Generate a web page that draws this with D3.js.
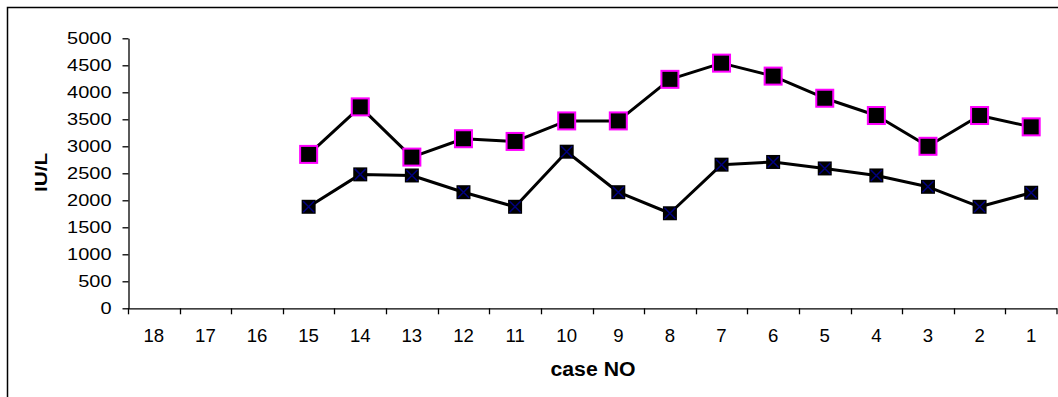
<!DOCTYPE html>
<html>
<head>
<meta charset="utf-8">
<script src="https://cdn.jsdelivr.net/npm/d3@7/dist/d3.min.js"></script>
<style>
  html, body { margin: 0; padding: 0; background: #fff; }
  svg { display: block; }
  text { font-family: "Liberation Sans", Arial, sans-serif; fill: #000; }
</style>
</head>
<body>
<svg id="chart" width="1058" height="397"></svg>
<script>
// Case numbers, shown in descending order along the x axis
const categories = ["18","17","16","15","14","13","12","11","10","9","8","7","6","5","4","3","2","1"];
// Upper series (magenta-edged squares), IU/L
const seriesUpper = [null, null, null, 2850, 3730, 2800, 3140, 3090, 3470, 3470, 4240, 4540, 4300, 3890, 3570, 3000, 3570, 3360];
// Lower series (squares with navy cross), IU/L
const seriesLower = [null, null, null, 1880, 2480, 2460, 2150, 1880, 2900, 2150, 1760, 2660, 2710, 2590, 2460, 2250, 1880, 2140];
const yTicks = [0, 500, 1000, 1500, 2000, 2500, 3000, 3500, 4000, 4500, 5000];

const svg = d3.select("#chart");

// Outer chart frame (only its top and left edges fall inside the view)
svg.append("rect")
  .attr("x", 7.5).attr("y", 7.5)
  .attr("width", 1200).attr("height", 600)
  .attr("fill", "none").attr("stroke", "#000").attr("stroke-width", 1.5);

const plot = { left: 128, right: 1057, top: 38.3, bottom: 308.3 };

const x = d3.scaleBand().domain(categories).range([plot.left, plot.right]).padding(0);
const y = d3.scaleLinear().domain([0, 5000]).range([plot.bottom, plot.top]);

// Y axis
const fmt = d3.format("d");
const yAxis = svg.append("g")
  .attr("transform", `translate(${plot.left + 0.5},0)`)
  .call(d3.axisLeft(y).tickValues(yTicks).tickFormat(fmt).tickSize(6).tickSizeOuter(0).tickPadding(11));
yAxis.select(".domain").attr("stroke", "#000").attr("stroke-width", 1.3);
yAxis.selectAll(".tick line").attr("stroke", "#000").attr("stroke-width", 1.3);
yAxis.selectAll(".tick text")
  .attr("font-family", "Liberation Sans, Arial, sans-serif")
  .attr("font-size", 17.2)
  .attr("fill", "#000")
  .attr("textLength", d => fmt(d).length * 11.1)
  .attr("lengthAdjust", "spacingAndGlyphs");

// X axis baseline
svg.append("line")
  .attr("x1", plot.left).attr("x2", plot.right)
  .attr("y1", plot.bottom + 0.5).attr("y2", plot.bottom + 0.5)
  .attr("stroke", "#000").attr("stroke-width", 1.3);

// X tick marks at category boundaries
const boundaries = categories.map(c => x(c)).concat([x(categories[categories.length - 1]) + x.bandwidth()]);
svg.append("g").selectAll("line")
  .data(boundaries)
  .join("line")
  .attr("x1", d => Math.min(Math.round(d) + 0.5, 1057)).attr("x2", d => Math.min(Math.round(d) + 0.5, 1057))
  .attr("y1", plot.bottom).attr("y2", plot.bottom + 6)
  .attr("stroke", "#000").attr("stroke-width", 1.3);

// X tick labels at category centres
svg.append("g").selectAll("text")
  .data(categories)
  .join("text")
  .attr("x", d => x(d) + x.bandwidth() / 2)
  .attr("y", 341.5)
  .attr("text-anchor", "middle")
  .attr("font-size", 18.6)
  .text(d => d);

// Axis titles
svg.append("text")
  .attr("x", 593).attr("y", 375.5)
  .attr("text-anchor", "middle")
  .attr("font-weight", "bold")
  .attr("font-size", 19.5)
  .attr("textLength", 85)
  .attr("lengthAdjust", "spacingAndGlyphs")
  .text("case NO");

svg.append("text")
  .attr("transform", `translate(46.5,172.5) rotate(-90)`)
  .attr("text-anchor", "middle")
  .attr("font-weight", "bold")
  .attr("font-size", 16.3)
  .attr("textLength", 39)
  .attr("lengthAdjust", "spacingAndGlyphs")
  .text("IU/L");

const cx = (d, i) => x(categories[i]) + x.bandwidth() / 2;

const line = d3.line()
  .defined(d => d != null)
  .x((d, i) => cx(d, i))
  .y(d => y(d));

function drawSeries(values, markerFn) {
  svg.append("path")
    .datum(values)
    .attr("d", line)
    .attr("fill", "none")
    .attr("stroke", "#000")
    .attr("stroke-width", 3)
    .attr("stroke-linejoin", "round");

  const pts = values.map((v, i) => ({ v, i })).filter(p => p.v != null);
  const g = svg.append("g").selectAll("g")
    .data(pts)
    .join("g")
    .attr("transform", p => `translate(${cx(p.v, p.i)},${y(p.v)})`);
  markerFn(g);
}

// Lower series: black square with navy cross
drawSeries(seriesLower, g => {
  const s = 14;
  g.append("rect")
    .attr("x", -s / 2).attr("y", -s / 2)
    .attr("width", s).attr("height", s)
    .attr("fill", "#000");
  const k = 5.5;
  g.append("path")
    .attr("d", `M${-k},${-k}L${k},${k}M${-k},${k}L${k},${-k}`)
    .attr("stroke", "#000080").attr("stroke-width", 1.5).attr("fill", "none");
});

// Upper series: black square with magenta edge
drawSeries(seriesUpper, g => {
  const s = 17;
  g.append("rect")
    .attr("x", -s / 2).attr("y", -s / 2)
    .attr("width", s).attr("height", s)
    .attr("fill", "#000")
    .attr("stroke", "#FF00FF").attr("stroke-width", 2);
});
</script>
</body>
</html>
